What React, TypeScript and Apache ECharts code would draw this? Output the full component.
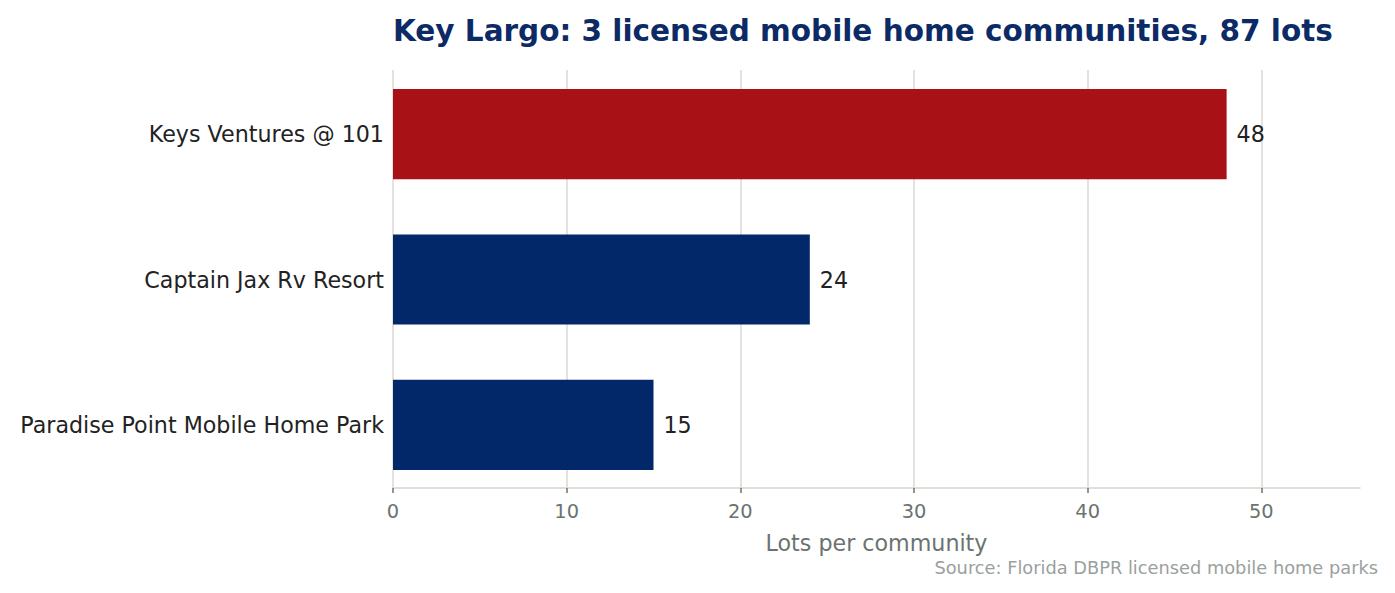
import React, { useEffect, useRef } from "react";
import * as echarts from "echarts";

// data
const communities = [
  "Keys Ventures @ 101",
  "Captain Jax Rv Resort",
  "Paradise Point Mobile Home Park",
];
const lots = [48, 24, 15];
const barColors = ["#a81115", "#03286a", "#03286a"];
const xTicks = [0, 10, 20, 30, 40, 50];

const FONT = "DejaVu Sans";

const App = () => {
  const chartRef = useRef<HTMLDivElement>(null);

  useEffect(() => {
    const myChart = echarts.init(chartRef.current!, null, { renderer: "svg" });
    const xMax = 55.68;
    const option = {
      animation: false,
      textStyle: { fontFamily: FONT },
      title: {
        text: "Key Largo: 3 licensed mobile home communities, 87 lots",
        left: 388,
        top: 11,
        textStyle: {
          color: "#0b2a66",
          fontSize: 29.5,
          fontWeight: "bold",
          fontFamily: FONT,
        },
      },
      grid: [
        // grid lines + x axis
        { left: 393, right: 35, top: 70, bottom: 105 },
        // bars
        { left: 393, right: 35, top: 61.5, bottom: 95.5 },
      ],
      xAxis: [
        {
          gridIndex: 0,
          type: "value",
          min: xTicks[0],
          max: xMax,
          interval: 10,
          axisLine: { show: true, lineStyle: { color: "#d9d5cf", width: 1.5 } },
          axisTick: { show: true, length: 5, lineStyle: { color: "#6b7370", width: 1.5 } },
          axisLabel: {
            color: "#6b7370",
            fontSize: 19.4,
            margin: 14,
            showMaxLabel: false,
            fontFamily: FONT,
          },
          splitLine: {
            show: true,
            showMaxLine: false,
            lineStyle: { color: "#dcd8d2", width: 1.5 },
          },
          name: "Lots per community",
          nameLocation: "middle",
          nameGap: 44,
          nameTextStyle: { color: "#6b7370", fontSize: 22.2, fontFamily: FONT },
        },
        {
          gridIndex: 1,
          type: "value",
          min: xTicks[0],
          max: xMax,
          show: false,
        },
      ],
      yAxis: [
        { gridIndex: 0, type: "value", show: false },
        {
          gridIndex: 1,
          type: "category",
          inverse: true,
          data: communities,
          axisLine: { show: false },
          axisTick: { show: false },
          axisLabel: {
            color: "#222222",
            fontSize: 22.2,
            margin: 9,
            padding: [4, 0, 0, 0],
            fontFamily: FONT,
          },
        },
      ],
      series: [
        {
          type: "bar",
          xAxisIndex: 1,
          yAxisIndex: 1,
          barWidth: "62%",
          data: lots.map((v, i) => ({ value: v, itemStyle: { color: barColors[i] } })),
          label: {
            show: true,
            position: "right",
            distance: 10,
            color: "#222222",
            fontSize: 22.2,
            fontFamily: FONT,
          },
        },
      ],
      graphic: [
        {
          type: "text",
          right: 17,
          top: 558,
          style: {
            text: "Source: Florida DBPR licensed mobile home parks",
            fill: "#9aa09e",
            fontSize: 17.8,
            fontFamily: FONT,
          },
        },
      ],
    };
    myChart.setOption(option);
    return () => {
      myChart.dispose();
    };
  }, []);

  return (
    <div
      ref={chartRef}
      style={{ position: "absolute", left: 0, top: 0, width: 1395, height: 593, background: "#ffffff" }}
    ></div>
  );
};

export default App;
